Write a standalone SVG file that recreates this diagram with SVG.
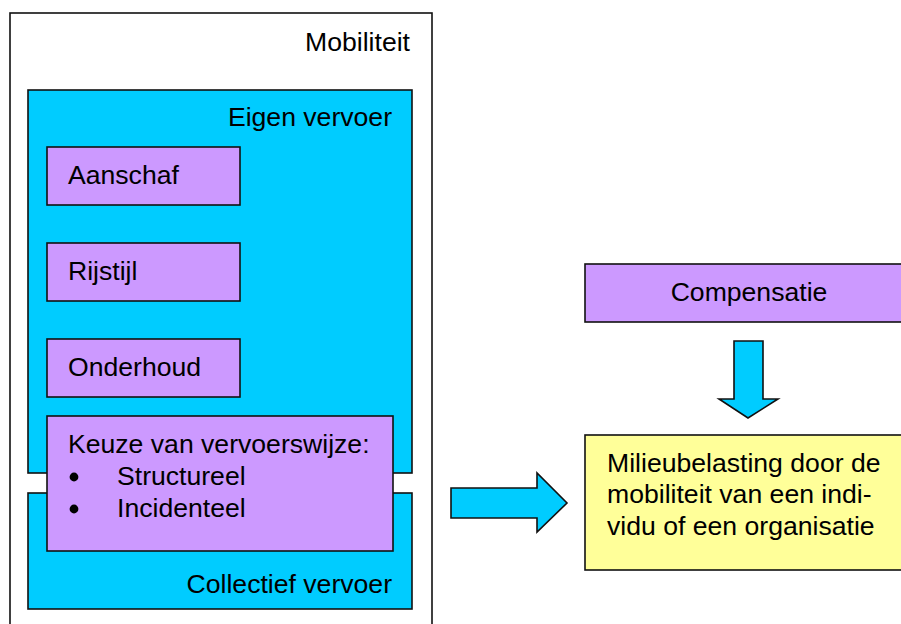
<svg xmlns="http://www.w3.org/2000/svg" width="901" height="624" viewBox="0 0 901 624">
  <style>
    .box { stroke: #111; stroke-width: 1.6; }
    .frame { fill: #fff; }
    .cyan { fill: #00ccff; }
    .lilac { fill: #cc99ff; }
    .yellow { fill: #ffff99; }
    text { font-family: "Liberation Sans", Arial, sans-serif; font-size: 26.6px; fill: #000; }
  </style>

  <!-- Mobiliteit frame (runs past the bottom edge) -->
  <g id="mobiliteit">
    <rect class="box frame" x="10" y="13" width="422" height="630"/>
    <text x="410" y="51" text-anchor="end">Mobiliteit</text>
  </g>

  <g id="eigen-vervoer">
    <rect class="box cyan" x="28" y="90" width="384" height="383"/>
    <text x="392" y="126" text-anchor="end">Eigen vervoer</text>
  </g>

  <g id="collectief-vervoer">
    <rect class="box cyan" x="28" y="493" width="384" height="116"/>
    <text x="392" y="593" text-anchor="end">Collectief vervoer</text>
  </g>

  <g id="aanschaf">
    <rect class="box lilac" x="47" y="147" width="193" height="58"/>
    <text x="68" y="184">Aanschaf</text>
  </g>

  <g id="rijstijl">
    <rect class="box lilac" x="47" y="243" width="193" height="58"/>
    <text x="68" y="280">Rijstijl</text>
  </g>

  <g id="onderhoud">
    <rect class="box lilac" x="47" y="339" width="193" height="58"/>
    <text x="68" y="376">Onderhoud</text>
  </g>

  <g id="keuze">
    <rect class="box lilac" x="47" y="416" width="346" height="135"/>
    <text x="68" y="453">Keuze van vervoerswijze:</text>
    <circle cx="74" cy="477" r="4.4" fill="#000"/>
    <text x="117" y="485">Structureel</text>
    <circle cx="74" cy="509" r="4.4" fill="#000"/>
    <text x="117" y="517">Incidenteel</text>
  </g>

  <g id="compensatie">
    <rect class="box lilac" x="585" y="264" width="330" height="58"/>
    <text x="749" y="301" text-anchor="middle">Compensatie</text>
  </g>

  <g id="milieubelasting">
    <rect class="box yellow" x="585" y="435" width="330" height="135"/>
    <text x="607" y="472">Milieubelasting door de</text>
    <text x="607" y="503">mobiliteit van een indi-</text>
    <text x="607" y="535">vidu of een organisatie</text>
  </g>

  <!-- block arrows -->
  <g id="connectors">
    <path class="box cyan" d="M451 488 H537 V473 L567 503 L537 532 V518 H451 Z"/>
    <path class="box cyan" d="M734 341 H763 V399 H778 L748 418 L719 399 H734 Z"/>
  </g>
</svg>
